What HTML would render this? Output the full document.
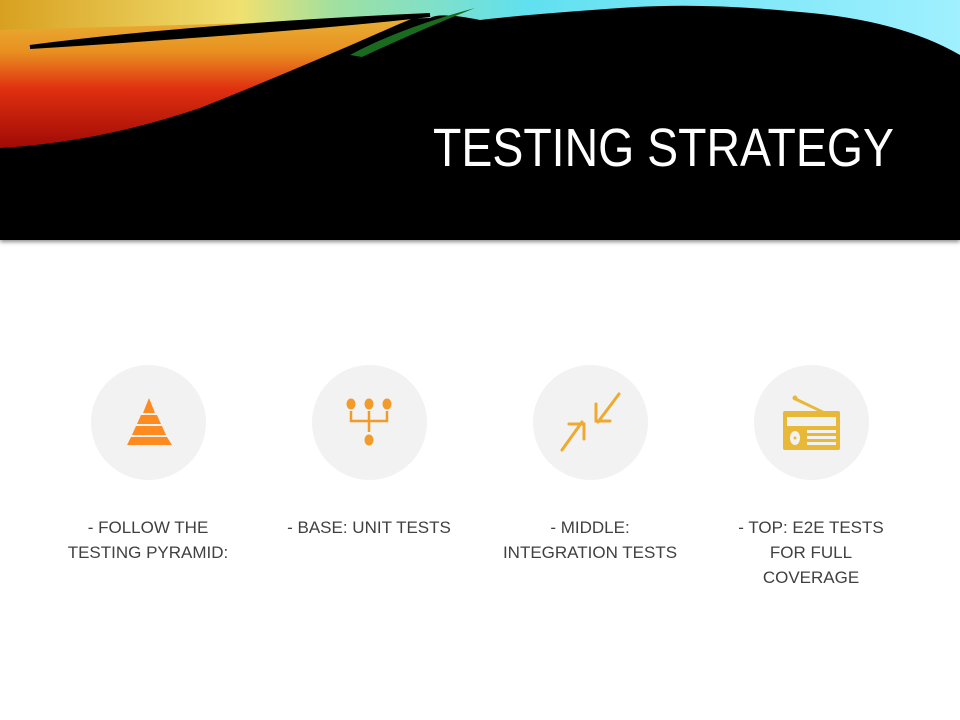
<!DOCTYPE html>
<html><head><meta charset="utf-8"><style>
html,body{margin:0;padding:0;width:960px;height:720px;overflow:hidden;background:#fff;font-family:"Liberation Sans",sans-serif}
.hdr{position:absolute;left:0;top:0;width:960px;height:240px;background:#000;box-shadow:0 2px 4px rgba(0,0,0,.45)}
.title{position:absolute;left:433px;top:117px;width:460px;font-size:54px;color:#fff;white-space:nowrap;transform-origin:left top;transform:scaleX(0.86);font-weight:normal}
.c{position:absolute;top:365px;width:115px;height:115px;border-radius:50%;background:#f2f2f2}
.l{position:absolute;top:515px;width:180px;text-align:center;font-size:17px;line-height:25px;color:#404040}
</style></head><body>
<div class="hdr">
<svg width="960" height="240" style="position:absolute;left:0;top:0">
<defs>
<linearGradient id="g1" x1="0" y1="0" x2="0" y2="1">
<stop offset="0" stop-color="#e8c040"/><stop offset="0.35" stop-color="#e89020"/><stop offset="0.6" stop-color="#e03010"/><stop offset="1" stop-color="#a00a05"/></linearGradient>
<linearGradient id="g2" x1="0" y1="0" x2="1" y2="0">
<stop offset="0" stop-color="#d8a020"/><stop offset="0.25" stop-color="#f0e070"/><stop offset="0.35" stop-color="#a0e0a0"/><stop offset="0.55" stop-color="#60e0f0"/><stop offset="1" stop-color="#a0f0ff"/></linearGradient>
</defs>
<path d="M0,0 L470,0 Q430,10 390,28 Q300,68 200,108 Q100,142 0,148 Z" fill="url(#g1)"/>
<path d="M0,0 L960,0 L960,55 Q900,20 800,12 Q700,2 620,8 Q520,15 480,20 Q440,12 430,18 L0,30 Z" fill="url(#g2)"/>
<path d="M30,47 Q200,25 430,15 Q300,30 30,47 Z" fill="#000" stroke="#000" stroke-width="4"/>
<path d="M350,55 Q400,28 475,8 Q420,30 362,57 Z" fill="#1a6a20"/>
</svg>
<div class="title">TESTING STRATEGY</div>
</div>

<div class="c" style="left:91px"></div>
<div class="c" style="left:312px"></div>
<div class="c" style="left:533px"></div>
<div class="c" style="left:754px"></div>

<svg width="960" height="720" style="position:absolute;left:0;top:0">
<g fill="#ff8a1f">
<polygon points="149,398 155,413 143,413"/>
<polygon points="141,415 157,415 161,424 137,424"/>
<polygon points="136,426 162,426 166,435 132,435"/>
<polygon points="131,437 167,437 172,445 127,445"/>
</g>
<g fill="#f29a2a" stroke="#f29a2a">
<ellipse cx="351" cy="404" rx="4" ry="5"/><ellipse cx="369" cy="404" rx="4" ry="5"/><ellipse cx="387" cy="404" rx="4" ry="5"/>
<ellipse cx="369" cy="440" rx="4" ry="5"/>
<path d="M351,411 V421 H387 V411 M369,411 V432" fill="none" stroke-width="2.5"/>
</g>
<g stroke="#efa830" stroke-width="3" fill="none" stroke-linecap="round">
<path d="M619,394 L598,422 M596,404 V421 H610"/>
<path d="M562,450 L582,422 M569,424 H584 V439"/>
</g>
<g fill="#e8b838">
<rect x="783" y="411" width="57" height="39" rx="2"/>
<path d="M795,397 L830,414 L828,416 L794,400 Z"/><circle cx="795" cy="398" r="2.5"/>
</g>
<g fill="#f2f2f2">
<rect x="787" y="417" width="49" height="9"/>
<ellipse cx="795" cy="438" rx="5" ry="7"/>
<rect x="807" y="430" width="29" height="3"/><rect x="807" y="436" width="29" height="3"/><rect x="807" y="442" width="29" height="3"/>
</g>
<circle cx="795" cy="438" r="1.5" fill="#e8b838"/>
</svg>

<div class="l" style="left:58px">- FOLLOW THE<br>TESTING PYRAMID:</div>
<div class="l" style="left:279px">- BASE: UNIT TESTS</div>
<div class="l" style="left:500px">- MIDDLE:<br>INTEGRATION TESTS</div>
<div class="l" style="left:721px">- TOP: E2E TESTS<br>FOR FULL<br>COVERAGE</div>
</body></html>
